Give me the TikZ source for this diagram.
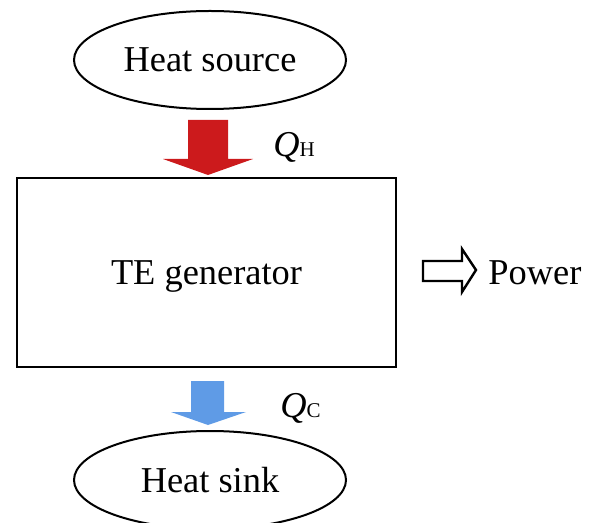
\documentclass[tikz,border=0pt]{standalone}
\usepackage{fontspec}
\setmainfont{Liberation Serif}
\usepackage{tikz}
\usetikzlibrary{shapes.geometric,positioning}

\definecolor{heatred}{RGB}{204,26,28}
\definecolor{coolblue}{RGB}{95,155,230}

\tikzset{
  oval/.style={draw,ellipse,line width=1pt,minimum width=136pt,minimum height=49pt,inner sep=0pt},
  genbox/.style={draw,rectangle,line width=1.3pt,minimum width=189.5pt,minimum height=94.5pt,text depth=0pt},
  flowlabel/.style={anchor=base west,inner sep=0pt}
}
\newcommand{\subtxt}[1]{{\fontsize{10.5}{12}\selectfont #1}}

\begin{document}
\begin{tikzpicture}[x=0.5pt,y=-0.5pt,font=\fontsize{18.2}{22}\selectfont]
  \useasboundingbox (0,0) rectangle (593,523);

  % source, generator, sink
  \node[oval] (source) at (210,60) {Heat source};
  \node[genbox] (gen) at (206.5,272.5) {TE generator};
  \node[oval] (sink) at (210,480) {Heat sink};

  % heat flow in
  \fill[heatred] (188,120) -- (228,120) -- (228,159) -- (253,159)
    -- (208,175) -- (163,159) -- (188,159) -- cycle;
  \node[flowlabel] (qh) at (273,157) {\itshape Q\upshape\subtxt{H}};

  % heat flow out
  \fill[coolblue] (191,381) -- (224,381) -- (224,412) -- (246,412)
    -- (208,425) -- (171,412) -- (191,412) -- cycle;
  \node[flowlabel] (qc) at (280,417) {\itshape Q\upshape\subtxt{C}};

  % power out
  \draw[line width=1.2pt,line join=miter] (423,261) -- (462,261) -- (462,249)
    -- (476,270) -- (462,292) -- (462,281) -- (423,281) -- cycle;
  \node[flowlabel] (power) at (488,285) {Power};
\end{tikzpicture}
\end{document}
